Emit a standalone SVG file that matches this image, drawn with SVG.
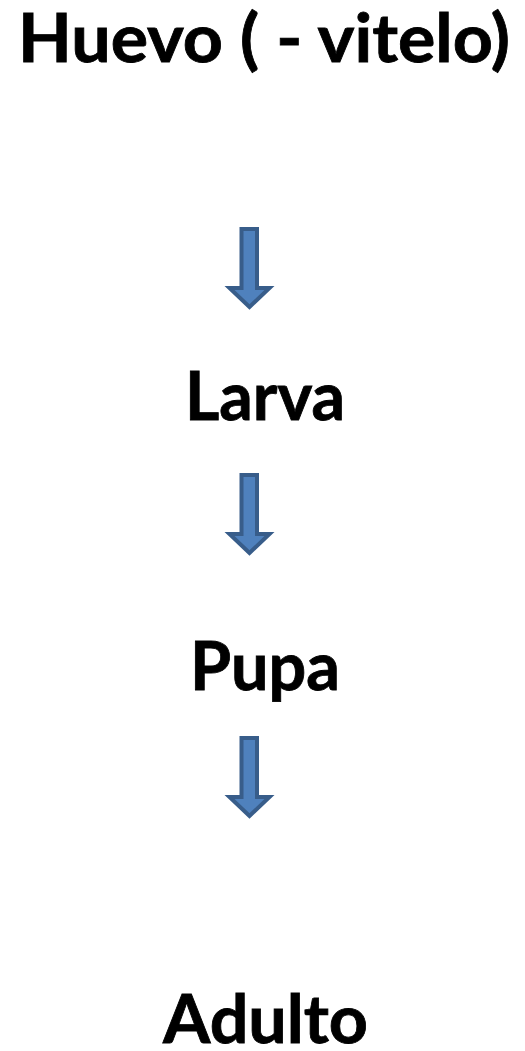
<svg xmlns="http://www.w3.org/2000/svg" width="525" height="1051" viewBox="0 0 525 1051">
<defs>
<style>
.t{font-family:Lato,"Open Sans","Liberation Sans",sans-serif;font-weight:bold;font-size:66px;fill:#000;stroke:#000;stroke-width:0.8px;}
.a{fill:#4f81bd;stroke:#385d8a;stroke-width:4;stroke-linejoin:miter;}
</style>
<path id="arr" class="a" d="M241.5,0 H257 V59 H269.5 L249.5,78 L229.5,59 H241.5 Z"/>
</defs>
<rect width="525" height="1051" fill="#fff"/>
<g id="connectors">
<use href="#arr" transform="translate(0,229)"/>
<use href="#arr" transform="translate(0,475)"/>
<use href="#arr" transform="translate(0,738)"/>
</g>
<g id="huevo"><text class="t" x="18" y="62" textLength="492" lengthAdjust="spacingAndGlyphs">Huevo ( - vitelo)</text></g>
<g id="larva"><text class="t" x="185" y="420" textLength="160" lengthAdjust="spacingAndGlyphs">Larva</text></g>
<g id="pupa"><text class="t" x="190" y="690" textLength="150" lengthAdjust="spacingAndGlyphs">Pupa</text></g>
<g id="adulto"><text class="t" x="163" y="1043" textLength="205" lengthAdjust="spacingAndGlyphs">Adulto</text></g>
</svg>
